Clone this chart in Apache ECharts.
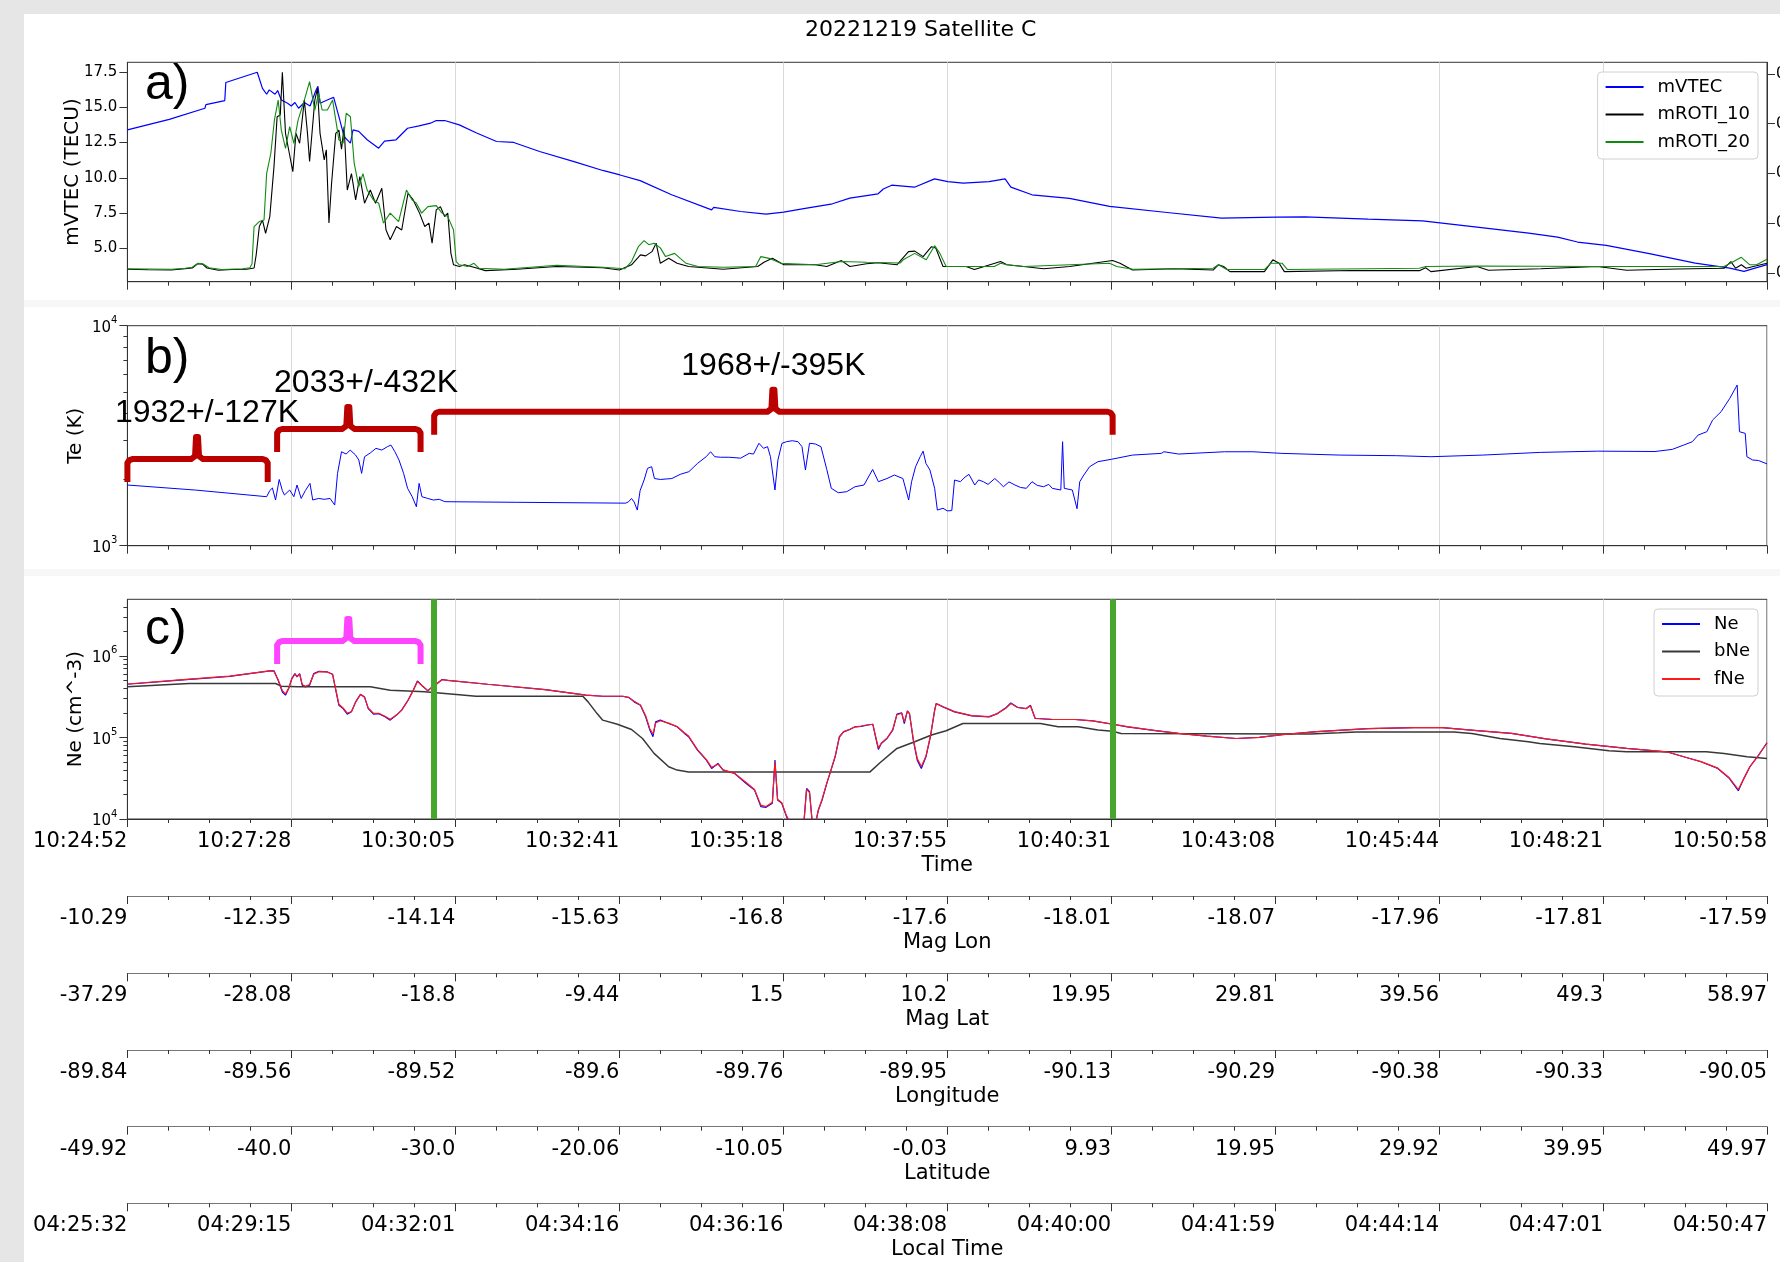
<!DOCTYPE html>
<html>
<head>
<meta charset="utf-8">
<title>20221219 Satellite C</title>
<script src="https://cdn.jsdelivr.net/npm/echarts@6/dist/echarts.min.js"></script>
<style>
  html, body { margin: 0; padding: 0; background: #e6e6e6; }
  #sheet { position: absolute; left: 24px; top: 14px; right: 0; bottom: 0; background: #ffffff; }
  .seam { position: absolute; left: 24px; right: 0; background: #f7f7f7; }
  #chart { position: absolute; left: 0; top: 0; width: 1780px; height: 1262px; }
</style>
</head>
<body>
<div id="sheet"></div>
<div class="seam" style="top:300px;height:7px"></div>
<div class="seam" style="top:569px;height:7px"></div>
<div id="chart"></div>
<script>
// ---- time base: seconds after 10:24:52 UT ----
const TIME_STEP = 156.6;
const TIME_SPAN = 1566;

// ---- tick labels of the shared time axis and the orbit axes ----
const timeLabels = ['10:24:52','10:27:28','10:30:05','10:32:41','10:35:18','10:37:55','10:40:31','10:43:08','10:45:44','10:48:21','10:50:58'];
const magLonLabels = ['-10.29','-12.35','-14.14','-15.63','-16.8','-17.6','-18.01','-18.07','-17.96','-17.81','-17.59'];
const magLatLabels = ['-37.29','-28.08','-18.8','-9.44','1.5','10.2','19.95','29.81','39.56','49.3','58.97'];
const lonLabels = ['-89.84','-89.56','-89.52','-89.6','-89.76','-89.95','-90.13','-90.29','-90.38','-90.33','-90.05'];
const latLabels = ['-49.92','-40.0','-30.0','-20.06','-10.05','-0.03','9.93','19.95','29.92','39.95','49.97'];
const localTimeLabels = ['04:25:32','04:29:15','04:32:01','04:34:16','04:36:16','04:38:08','04:40:00','04:41:59','04:44:14','04:47:01','04:50:47'];

// ---- a) mVTEC (TECU) ----
const mVTEC = [[0,13.4],[40,14.15],[74,14.94],[75,15.2],[93,15.49],[94,16.77],[124,17.5],[129,16.36],[133,15.94],[135.5,16.25],[141,15.94],[143.5,16.2],[147,15.53],[153,15.3],[156.5,15.1],[160,15.35],[163.5,14.94],[169,15.35],[174.5,15.1],[180,16.2],[182,16.5],[184,15.3],[193,15.6],[197,15.72],[202,14.35],[207,12.93],[213,12.46],[215.5,13.4],[221,13.3],[229,12.7],[240,12.1],[245.6,12.6],[256.6,12.7],[267.6,13.52],[278.6,13.69],[289.5,13.88],[295,14.07],[303,14.07],[317,13.76],[333,13.2],[352.6,12.58],[369,12.51],[393.7,11.87],[426.6,11.15],[454,10.52],[470.5,10.2],[489.7,9.8],[519.8,8.79],[558,7.72],[560,7.9],[585.7,7.6],[610,7.41],[626.8,7.56],[646,7.81],[673.4,8.15],[690,8.55],[717,8.86],[722,9.2],[730,9.47],[751.7,9.33],[770.9,9.92],[783.5,9.73],[798.3,9.62],[823,9.73],[838.3,9.92],[843.8,9.33],[864,8.79],[899.8,8.53],[938.1,7.96],[993,7.53],[1045,7.13],[1097,7.2],[1124.6,7.22],[1185,7.06],[1237,6.94],[1289,6.49],[1338.4,6.07],[1366,5.78],[1385,5.43],[1412.5,5.19],[1453.6,4.6],[1497.5,3.93],[1530.4,3.58],[1544,3.34],[1566,3.82]];

// ---- a) mROTI (TECU/min, right axis) ----
const mROTI10 = [[0,0.014],[20,0.012],[42,0.011],[55,0.016],[62,0.019],[67,0.036],[72,0.034],[76,0.019],[87,0.010],[100,0.013],[114,0.014],[121,0.019],[123,0.072],[126,0.186],[129,0.212],[132,0.159],[136,0.226],[140,0.427],[143,0.628],[146,0.635],[148,0.807],[151,0.561],[154,0.495],[158,0.407],[161,0.561],[164.5,0.521],[169,0.695],[172,0.561],[174,0.448],[179,0.695],[181.5,0.742],[184,0.561],[188,0.454],[190,0.495],[192.5,0.2],[195,0.359],[199,0.561],[202,0.574],[204.5,0.497],[207,0.588],[210,0.333],[214,0.399],[218,0.293],[222,0.387],[226.5,0.28],[232,0.333],[237,0.28],[243,0.34],[247,0.172],[251,0.133],[257,0.186],[262,0.172],[268,0.32],[273,0.293],[279,0.24],[284,0.186],[288,0.2],[291,0.119],[295,0.253],[299,0.266],[303,0.226],[306,0.24],[309,0.078],[311.5,0.032],[317,0.025],[322,0.032],[331,0.022],[342,0.0085],[372,0.014],[410,0.025],[454,0.02],[470,0.011],[481.5,0.032],[490,0.072],[495,0.068],[501,0.085],[505,0.119],[509,0.038],[517,0.058],[525,0.038],[536,0.025],[569,0.014],[602,0.025],[608,0.042],[616,0.058],[627,0.032],[657,0.032],[668,0.025],[682,0.049],[690,0.025],[706,0.036],[717,0.04],[735,0.032],[746,0.085],[752,0.087],[760,0.065],[768,0.105],[772,0.1],[779,0.025],[801,0.025],[809,0.013],[834,0.045],[840,0.032],[856,0.025],[875,0.016],[900,0.025],[941,0.049],[948,0.038],[960,0.011],[1000,0.016],[1037,0.011],[1042,0.032],[1047,0.025],[1053,0.0045],[1086,0.0045],[1094,0.052],[1100,0.038],[1105,0.0045],[1170,0.009],[1234,0.0085],[1240,0.02],[1245,0.0045],[1289,0.025],[1300,0.01],[1350,0.016],[1404,0.025],[1432,0.01],[1480,0.015],[1525,0.018],[1531.5,0.045],[1536,0.018],[1541.5,0.032],[1546,0.018],[1566,0.038]];
const mROTI20 = [[0,0.016],[20,0.015],[42,0.014],[55,0.018],[62,0.022],[67,0.038],[72,0.036],[78,0.02],[90,0.013],[110,0.016],[117,0.02],[119,0.036],[121,0.186],[126,0.206],[130.5,0.212],[133,0.4],[137,0.481],[140.4,0.614],[144,0.695],[147,0.574],[151,0.501],[155,0.588],[159,0.521],[163,0.614],[169,0.695],[174,0.769],[179,0.655],[182.6,0.722],[186,0.655],[191,0.655],[196,0.695],[202,0.535],[206,0.521],[209,0.642],[213,0.628],[216.6,0.441],[221,0.347],[225,0.399],[229,0.333],[235,0.293],[240,0.28],[244.6,0.2],[251,0.24],[259,0.206],[266.5,0.333],[272,0.293],[276,0.28],[281,0.24],[287,0.266],[295,0.27],[300.5,0.24],[306,0.226],[311.5,0.172],[314,0.045],[317,0.032],[325,0.025],[331,0.038],[336,0.018],[360,0.014],[410,0.03],[454,0.022],[475,0.016],[481.5,0.045],[488,0.105],[493.5,0.129],[498,0.113],[503,0.119],[509,0.1],[514,0.065],[522.6,0.078],[528,0.058],[533.6,0.038],[545,0.025],[569,0.022],[600,0.025],[605,0.065],[613,0.058],[624,0.038],[657,0.032],[682,0.045],[706,0.042],[738,0.039],[741,0.052],[752,0.078],[763,0.052],[771,0.109],[776,0.078],[782,0.025],[828,0.025],[834,0.038],[840,0.032],[856,0.025],[938,0.038],[945,0.025],[960,0.014],[1037,0.018],[1042,0.032],[1050,0.013],[1086,0.013],[1092,0.038],[1103,0.038],[1108,0.013],[1234,0.018],[1240,0.025],[1289,0.027],[1404,0.025],[1525,0.025],[1531,0.038],[1541.5,0.062],[1549.6,0.032],[1556,0.032],[1566,0.054]];

// ---- b) electron temperature (K) ----
const Te = [[0,1887],[65,1790],[133,1670],[136,1781],[138.5,1830],[141.5,1613],[145,2000],[148,1781],[150,1700],[155,1791],[159,1670],[162,1887],[166,1640],[170,1781],[174.4,1920],[177,1613],[182.6,1640],[188,1625],[193.6,1640],[198,1530],[200.7,2132],[204.5,2673],[209,2610],[212.8,2721],[218,2582],[221,2452],[223.7,2132],[226.5,2538],[232,2640],[237.4,2770],[243,2721],[248.4,2820],[251.7,2868],[255.5,2673],[259.4,2452],[263.8,2132],[267.6,1823],[272,1670],[276,1504],[278.6,1920],[281.3,1670],[286.8,1640],[292.3,1613],[297.8,1625],[303.2,1585],[372,1575],[476,1561],[478.7,1585],[481.5,1640],[484,1580],[487,1452],[489.7,1781],[493.5,1989],[496.8,2247],[500.7,2286],[503.4,2020],[509,2000],[520,2020],[528,2110],[536.3,2170],[544.5,2366],[552.8,2538],[557,2673],[561,2538],[566.5,2524],[574.7,2524],[585.7,2500],[593.9,2628],[598,2610],[603.2,2922],[607.6,2770],[611.4,2820],[614.2,2538],[618.5,1791],[621.3,2452],[625.2,2922],[629.5,2970],[635,3000],[640.5,2970],[644.3,2820],[647.6,2209],[651.5,2922],[657,2900],[662.4,2820],[668,2221],[672.3,1823],[679,1741],[687,1760],[695,1854],[703.5,1887],[711.8,2221],[717.3,1954],[725.5,2020],[732.5,2095],[740.7,2020],[746.2,1613],[749,1954],[752.8,2286],[757.2,2538],[760,2690],[762.7,2366],[766.5,2209],[771,1823],[773.6,1452],[779,1480],[783,1440],[787.4,1444],[790,1989],[795.6,1954],[800,2050],[803.8,2110],[809.3,1887],[813,1990],[817.5,1954],[822,1900],[828.5,2020],[833,1930],[836.7,1854],[842,1950],[847.7,1887],[853,1840],[858.6,1823],[864,1954],[869,1880],[875,1854],[880,1900],[883.3,1823],[891.5,1791],[893.2,2970],[894.8,1823],[902.5,1791],[907,1472],[909.6,1954],[913.5,2095],[919,2286],[927,2410],[939.8,2470],[960,2582],[987.5,2628],[990,2673],[1004,2610],[1048,2673],[1075,2673],[1102.7,2628],[1157.5,2582],[1212.3,2565],[1245,2538],[1294.6,2582],[1349.4,2655],[1404.3,2690],[1459,2680],[1475.5,2740],[1486.5,2868],[1494.7,2970],[1500.2,3183],[1508.5,3297],[1514,3723],[1522.1,4063],[1530.4,4670],[1537.5,5375],[1539.7,3297],[1545.2,3240],[1546.8,2538],[1552.3,2452],[1557.8,2440],[1566,2355]];

// ---- c) electron density (cm^-3) ----
const Ne = [[0,4.49e5],[50,5.05e5],[97.6,5.62e5],[136,6.55e5],[140,6.55e5],[144,5.02e5],[148,3.61e5],[151,3.30e5],[154,3.97e5],[157,5.27e5],[160,6.07e5],[162,5.52e5],[164.5,6.07e5],[167,4.37e5],[170,4.17e5],[174,4.37e5],[178,6.07e5],[183,6.47e5],[191,6.35e5],[196,5.95e5],[199,3.79e5],[202,2.48e5],[206,2.26e5],[210,1.93e5],[214,2.06e5],[218,2.73e5],[222.6,3.39e5],[226.5,3.14e5],[230,2.26e5],[235,1.93e5],[240,1.96e5],[246,1.79e5],[251,1.63e5],[257,1.88e5],[262,2.16e5],[268,2.86e5],[273,3.79e5],[277,4.93e5],[281,4.37e5],[287,3.72e5],[291,4.17e5],[295,4.49e5],[300.5,5.13e5],[306,5.02e5],[344,4.49e5],[399,3.86e5],[438,3.30e5],[454,3.20e5],[473,3.20e5],[479,3.08e5],[484,2.73e5],[490,2.48e5],[495,1.79e5],[499,1.23e5],[502,1.02e5],[504.5,1.55e5],[509,1.63e5],[517,1.48e5],[525,1.35e5],[532,1.12e5],[536,1.02e5],[544.5,7.0e4],[553,5.27e4],[558,4.17e4],[564,4.80e4],[569,3.98e4],[580,3.62e4],[591,2.73e4],[599,2.26e4],[605,1.42e4],[610,1.39e4],[616,1.56e4],[618.5,5.27e4],[621,1.71e4],[625,1.56e4],[629.5,1.07e4],[633,8.8e3],[640,8.5e3],[646,8.5e3],[648.7,2.37e4],[651.5,2.16e4],[654,9.3e3],[657,8.5e3],[660,1.29e4],[663.5,1.71e4],[668,2.73e4],[672,3.98e4],[676,5.79e4],[680,1.02e5],[684,1.17e5],[690,1.25e5],[695,1.35e5],[701,1.37e5],[706,1.41e5],[712,1.45e5],[714.5,1.02e5],[717.3,7.13e4],[720,8.43e4],[725.5,9.7e4],[731,1.23e5],[735,1.93e5],[739.6,2.0e5],[742,1.48e5],[745,2.12e5],[747,1.96e5],[750.6,9.27e4],[754.4,5.27e4],[758.3,4.17e4],[762.7,5.79e4],[767,1.02e5],[771,2.16e5],[772.5,2.61e5],[779,2.37e5],[790,2.06e5],[806.5,1.84e5],[823,1.79e5],[831,1.96e5],[839.4,2.33e5],[843.8,2.65e5],[850.4,2.33e5],[858.6,2.26e5],[862.5,2.48e5],[867,1.71e5],[883,1.66e5],[905,1.66e5],[922,1.60e5],[941,1.45e5],[955,1.35e5],[982,1.21e5],[1004,1.12e5],[1031,1.04e5],[1059,9.7e4],[1081,1.0e5],[1103,1.08e5],[1136,1.18e5],[1185,1.28e5],[1229,1.32e5],[1256,1.32e5],[1289,1.21e5],[1322,1.12e5],[1355,9.6e4],[1393,8.28e4],[1432,7.33e4],[1470,6.67e4],[1486.5,5.79e4],[1503,5.04e4],[1519,4.17e4],[1530,3.15e4],[1538.6,2.22e4],[1544,3.15e4],[1549.6,4.37e4],[1558,6.07e4],[1566,8.6e4]];
const bNe = [[0,4.17e5],[59,4.58e5],[141.5,4.58e5],[147,4.25e5],[163,4.17e5],[232,4.17e5],[251,3.79e5],[284,3.62e5],[311.5,3.39e5],[333,3.20e5],[435,3.20e5],[440,2.73e5],[448.6,1.96e5],[454,1.63e5],[468,1.45e5],[481.5,1.25e5],[492,9.7e4],[503,6.37e4],[517,4.37e4],[525,3.98e4],[536,3.76e4],[709,3.76e4],[718.8,4.9e4],[735,7.33e4],[752,8.85e4],[768,1.07e5],[782,1.21e5],[798,1.48e5],[872,1.48e5],[889,1.35e5],[908,1.35e5],[927,1.23e5],[941,1.19e5],[949,1.12e5],[1130,1.10e5],[1157,1.14e5],[1174,1.17e5],[1267,1.17e5],[1284,1.12e5],[1311,9.7e4],[1338,8.85e4],[1349,8.43e4],[1382,7.67e4],[1415,6.85e4],[1432,6.67e4],[1508,6.67e4],[1525,6.37e4],[1547,5.79e4],[1566,5.53e4]];
const fNe = [[0,4.52e5],[50,5.08e5],[97.6,5.64e5],[136,6.55e5],[140,6.45e5],[144,5.1e5],[148,3.75e5],[151,3.42e5],[154,4.0e5],[157,5.2e5],[160,5.95e5],[162,5.6e5],[164.5,5.95e5],[167,4.45e5],[170,4.25e5],[174,4.45e5],[178,5.95e5],[183,6.4e5],[191,6.35e5],[196,5.9e5],[199,3.9e5],[202,2.55e5],[206,2.3e5],[210,1.98e5],[214,2.08e5],[218,2.7e5],[222.6,3.35e5],[226.5,3.1e5],[230,2.3e5],[235,1.98e5],[240,1.98e5],[246,1.82e5],[251,1.67e5],[257,1.88e5],[262,2.16e5],[268,2.84e5],[273,3.75e5],[277,4.85e5],[281,4.37e5],[287,3.75e5],[291,4.15e5],[295,4.49e5],[300.5,5.1e5],[306,5.02e5],[344,4.49e5],[399,3.86e5],[438,3.30e5],[454,3.20e5],[473,3.20e5],[479,3.1e5],[484,2.78e5],[490,2.5e5],[495,1.85e5],[499,1.28e5],[502,1.1e5],[504.5,1.5e5],[509,1.6e5],[517,1.5e5],[525,1.36e5],[532,1.14e5],[536,1.04e5],[544.5,7.1e4],[553,5.35e4],[558,4.3e4],[564,4.7e4],[569,4.0e4],[580,3.62e4],[591,2.8e4],[599,2.3e4],[605,1.48e4],[610,1.42e4],[616,1.6e4],[618.5,5.0e4],[621,1.75e4],[625,1.58e4],[629.5,1.1e4],[633,9.0e3],[640,8.6e3],[646,8.8e3],[648.7,2.3e4],[651.5,2.1e4],[654,9.5e3],[657,8.8e3],[660,1.3e4],[663.5,1.75e4],[668,2.75e4],[672,4.0e4],[676,5.9e4],[680,1.0e5],[684,1.18e5],[690,1.26e5],[695,1.35e5],[701,1.38e5],[706,1.42e5],[712,1.45e5],[714.5,1.05e5],[717.3,7.4e4],[720,8.5e4],[725.5,9.8e4],[731,1.25e5],[735,1.9e5],[739.6,1.98e5],[742,1.55e5],[745,2.1e5],[747,1.94e5],[750.6,9.6e4],[754.4,5.5e4],[758.3,4.4e4],[762.7,5.9e4],[767,1.05e5],[771,2.12e5],[772.5,2.6e5],[779,2.38e5],[790,2.07e5],[806.5,1.85e5],[823,1.8e5],[831,1.96e5],[839.4,2.3e5],[843.8,2.6e5],[850.4,2.33e5],[858.6,2.26e5],[862.5,2.45e5],[867,1.72e5],[883,1.67e5],[905,1.66e5],[922,1.60e5],[941,1.46e5],[955,1.36e5],[982,1.21e5],[1004,1.12e5],[1031,1.04e5],[1059,9.7e4],[1081,1.0e5],[1103,1.08e5],[1136,1.18e5],[1185,1.28e5],[1229,1.32e5],[1256,1.32e5],[1289,1.21e5],[1322,1.12e5],[1355,9.6e4],[1393,8.3e4],[1432,7.33e4],[1470,6.67e4],[1486.5,5.8e4],[1503,5.05e4],[1519,4.2e4],[1530,3.2e4],[1538.6,2.3e4],[1544,3.15e4],[1549.6,4.35e4],[1558,6.05e4],[1566,8.6e4]];

// ---- interval boundaries (green lines) ----
const boundaryTimes = [293, 941];

// ---- Te interval brackets: [start s, end s, bar level K, spike s] ----
const teBrackets = [[0, 134, 2477, 66.5], [143, 280, 3393, 211], [293, 941, 4064, 617]];
const teBracketText = ['1932+/-127K', '2033+/-432K', '1968+/-395K'];
const teBracketTextAt = [76, 228, 617];
// ---- Ne bracket: [start s, end s, bar level cm^-3, spike s] ----
const neBrackets = [[143, 280, 1.52e6, 211]];

const FONT = 'DejaVu Sans';
const AXIS = '#333333';
const GRID_LEFT = 127.4, GRID_WIDTH = 1639.6;

function tickFormatter(labels) {
  return function (v) {
    const i = Math.round(v / TIME_STEP);
    return Math.abs(v - i * TIME_STEP) < 0.5 ? (labels[i] || '') : '';
  };
}

function timeAxis(gridIndex, extra) {
  return Object.assign({
    type: 'value', gridIndex: gridIndex, min: 0, max: TIME_SPAN, interval: TIME_STEP,
    axisLine: { show: true, onZero: false, lineStyle: { color: AXIS, width: 1 } },
    axisTick: { show: true, length: 8, lineStyle: { color: AXIS, width: 1 } },
    minorTick: { show: true, splitNumber: 4, length: 4, lineStyle: { color: AXIS, width: 1 } },
    splitLine: { show: false },
    axisLabel: { show: false }
  }, extra || {});
}

const panelSplit = { show: true, lineStyle: { color: '#d9d9d9', width: 1 } };

function labelled(labels, name) {
  return {
    axisLabel: { show: true, formatter: tickFormatter(labels), align: 'right', margin: 12,
                 fontSize: 21, fontFamily: FONT, color: '#000' },
    name: name, nameLocation: 'middle', nameGap: 36,
    nameTextStyle: { fontSize: 21, fontFamily: FONT, color: '#000' }
  };
}

const powLabel = function (v) { return '{b|10}{e|' + Math.round(Math.log10(v)) + '}'; };
const powRich = {
  b: { fontSize: 15, fontFamily: FONT, color: '#000', lineHeight: 20, verticalAlign: 'bottom' },
  e: { fontSize: 10, fontFamily: FONT, color: '#000', lineHeight: 20, verticalAlign: 'top' }
};

function logAxis(gridIndex, min, max, majors, name) {
  return {
    type: 'log', logBase: 10, gridIndex: gridIndex, min: min, max: max, position: 'left',
    axisLine: { show: true, lineStyle: { color: AXIS, width: 1 } },
    axisTick: { show: true, length: 8, customValues: majors, lineStyle: { color: AXIS } },
    axisLabel: { show: true, customValues: majors, formatter: powLabel, rich: powRich, margin: 10 },
    splitLine: { show: false },
    name: name, nameLocation: 'middle', nameGap: 42, nameMoveOverlap: false,
    nameTextStyle: { fontSize: 20, fontFamily: FONT, color: '#000' }
  };
}
function logMinor(gridIndex, min, max, minors) {
  return {
    type: 'log', logBase: 10, gridIndex: gridIndex, min: min, max: max, position: 'left',
    axisLine: { show: false },
    axisTick: { show: true, length: 4, customValues: minors, lineStyle: { color: AXIS } },
    axisLabel: { show: false }, splitLine: { show: false }
  };
}

function bracketRenderer(color, texts, textAt) {
  return function (params, api) {
    const a = api.coord([api.value(0), api.value(2)]);
    const b = api.coord([api.value(1), api.value(2)]);
    const p = api.coord([api.value(3), api.value(2)]);
    const y = a[1], hook = 23, spike = 22;
    const pts = [
      [a[0], y + hook], [a[0], y + 4], [a[0] + 2, y + 1], [a[0] + 5, y],
      [p[0] - 6, y], [p[0] - 2, y - 3], [p[0] - 1, y - spike], [p[0] + 1, y - spike],
      [p[0] + 2, y - 3], [p[0] + 6, y],
      [b[0] - 5, y], [b[0] - 2, y + 1], [b[0], y + 4], [b[0], y + hook]
    ];
    const children = [{
      type: 'polyline', shape: { points: pts },
      style: { stroke: color, lineWidth: 6, fill: null, lineJoin: 'round' }
    }];
    if (texts) {
      const tx = api.coord([textAt[params.dataIndex], api.value(2)])[0];
      children.push({
        type: 'text',
        style: { text: texts[params.dataIndex], x: tx, y: y - spike - 24,
                 align: 'center', verticalAlign: 'middle',
                 font: '32px "Liberation Sans", Arial, sans-serif', fill: '#000' }
      });
    }
    return { type: 'group', children: children };
  };
}

const orbitAxes = [
  [magLonLabels, 'Mag Lon', 896],
  [magLatLabels, 'Mag Lat', 973.3],
  [lonLabels, 'Longitude', 1050],
  [latLabels, 'Latitude', 1126.7],
  [localTimeLabels, 'Local Time', 1203.3]
];

const grids = [
  { left: GRID_LEFT, top: 62.3, width: GRID_WIDTH, height: 219.4 },
  { left: GRID_LEFT, top: 325.7, width: GRID_WIDTH, height: 220 },
  { left: GRID_LEFT, top: 599.3, width: GRID_WIDTH, height: 219.7 }
].map(function (g) {
  return Object.assign(g, { show: true, borderColor: AXIS, borderWidth: 1, containLabel: false, outerBoundsMode: 'none' });
});
orbitAxes.forEach(function (o) {
  grids.push({ left: GRID_LEFT, top: o[2] - 1, width: GRID_WIDTH, height: 1, show: false, containLabel: false, outerBoundsMode: 'none' });
});

const xAxes = [
  timeAxis(0, { splitLine: panelSplit }),
  timeAxis(1, { splitLine: panelSplit }),
  timeAxis(2, Object.assign({ splitLine: panelSplit }, labelled(timeLabels, 'Time')))
];
orbitAxes.forEach(function (o, i) {
  xAxes.push(timeAxis(3 + i, Object.assign({
    axisLine: { show: true, onZero: false, lineStyle: { color: '#777', width: 1 } }
  }, labelled(o[0], o[1]))));
});

const yAxes = [
  {
    type: 'value', gridIndex: 0, min: 2.61, max: 18.21, position: 'left',
    axisLine: { show: true, lineStyle: { color: AXIS } },
    axisTick: { show: true, length: 8, customValues: [5, 7.5, 10, 12.5, 15, 17.5], lineStyle: { color: AXIS } },
    axisLabel: { show: true, customValues: [5, 7.5, 10, 12.5, 15, 17.5], formatter: function (v) { return v.toFixed(1); },
                 fontSize: 15, fontFamily: FONT, color: '#000', margin: 10 },
    splitLine: { show: false },
    name: 'mVTEC (TECU)', nameLocation: 'middle', nameGap: 45, nameMoveOverlap: false,
    nameTextStyle: { fontSize: 20, fontFamily: FONT, color: '#000' }
  },
  {
    type: 'value', gridIndex: 0, min: -0.036, max: 0.847, position: 'right',
    axisLine: { show: true, lineStyle: { color: AXIS } },
    axisTick: { show: true, length: 8, customValues: [0, 0.2, 0.4, 0.6, 0.8], lineStyle: { color: AXIS } },
    axisLabel: { show: true, customValues: [0, 0.2, 0.4, 0.6, 0.8], formatter: function (v) { return v.toFixed(1); },
                 fontSize: 15, fontFamily: FONT, color: '#000', margin: 9 },
    splitLine: { show: false }
  },
  logAxis(1, 1e3, 1e4, [1e3, 1e4], 'Te (K)'),
  logMinor(1, 1e3, 1e4, [2e3, 3e3, 4e3, 5e3, 6e3, 7e3, 8e3, 9e3]),
  logAxis(2, 1e4, 4.94e6, [1e4, 1e5, 1e6], 'Ne (cm^-3)'),
  logMinor(2, 1e4, 4.94e6, [2e4, 3e4, 4e4, 5e4, 6e4, 7e4, 8e4, 9e4, 2e5, 3e5, 4e5, 5e5, 6e5, 7e5, 8e5, 9e5, 2e6, 3e6, 4e6])
];
orbitAxes.forEach(function (o, i) {
  yAxes.push({ type: 'value', gridIndex: 3 + i, show: false, min: 0, max: 1 });
});

function line(name, data, xi, yi, color, width, z) {
  return {
    name: name, type: 'line', xAxisIndex: xi, yAxisIndex: yi, data: data,
    symbol: 'none', showSymbol: false, smooth: false, color: color, z: z || 2,
    lineStyle: { color: color, width: width }, silent: true
  };
}

const legendBase = {
  orient: 'vertical', right: 22, itemWidth: 38, itemHeight: 14, itemGap: 9.5,
  padding: [6, 8, 8, 7], backgroundColor: 'rgba(255,255,255,0.85)',
  borderColor: '#d0d0d0', borderWidth: 1, borderRadius: 4, selectedMode: false,
  lineStyle: { width: 2 },
  itemStyle: { opacity: 0, color: 'rgba(0,0,0,0)', borderWidth: 0 },
  textStyle: { fontSize: 18, fontFamily: FONT, color: '#000', padding: [0, 0, 0, 9] }
};

const neSeries = line('Ne', Ne, 2, 4, '#0000ff', 1.2, 2);
neSeries.markLine = {
  silent: true, symbol: ['none', 'none'], label: { show: false },
  lineStyle: { color: '#46a62e', width: 6, type: 'solid' },
  data: boundaryTimes.map(function (t) { return { xAxis: t }; })
};

const panelLetterFont = '50px "Liberation Sans", Arial, sans-serif';

const option = {
  animation: false,
  backgroundColor: 'transparent',
  textStyle: { fontFamily: FONT },
  title: {
    text: '20221219 Satellite C', left: 800, top: 14,
    textStyle: { fontSize: 22, fontWeight: 'normal', fontFamily: FONT, color: '#000' }
  },
  legend: [
    Object.assign({}, legendBase, { top: 72, data: ['mVTEC', 'mROTI_10', 'mROTI_20'] }),
    Object.assign({}, legendBase, { top: 609, data: ['Ne', 'bNe', 'fNe'] })
  ],
  grid: grids,
  xAxis: xAxes,
  yAxis: yAxes,
  graphic: [
    { type: 'text', left: 145, top: 60, style: { text: 'a)', font: panelLetterFont, fill: '#000' } },
    { type: 'text', left: 145, top: 334, style: { text: 'b)', font: panelLetterFont, fill: '#000' } },
    { type: 'text', left: 145, top: 605, style: { text: 'c)', font: panelLetterFont, fill: '#000' } }
  ],
  series: [
    line('mVTEC', mVTEC, 0, 0, '#0000ff', 1.2, 2),
    line('mROTI_10', mROTI10, 0, 1, '#000000', 1.1, 3),
    line('mROTI_20', mROTI20, 0, 1, '#118a11', 1.1, 4),
    line('Te', Te, 1, 2, '#0000ff', 1, 2),
    {
      type: 'custom', xAxisIndex: 1, yAxisIndex: 2, silent: true, z: 5,
      encode: { x: [0, 1, 3], y: 2 },
      data: teBrackets,
      renderItem: bracketRenderer('#bb0000', teBracketText, teBracketTextAt)
    },
    neSeries,
    line('bNe', bNe, 2, 4, '#383838', 1.5, 3),
    line('fNe', fNe, 2, 4, '#ff1a1a', 1.2, 4),
    {
      type: 'custom', xAxisIndex: 2, yAxisIndex: 4, silent: true, z: 5,
      encode: { x: [0, 1, 3], y: 2 },
      data: neBrackets,
      renderItem: bracketRenderer('#ff44ff', null, null)
    }
  ]
};

const chart = echarts.init(document.getElementById('chart'), null, { renderer: 'canvas', width: 1780, height: 1262 });
chart.setOption(option);
</script>
</body>
</html>
